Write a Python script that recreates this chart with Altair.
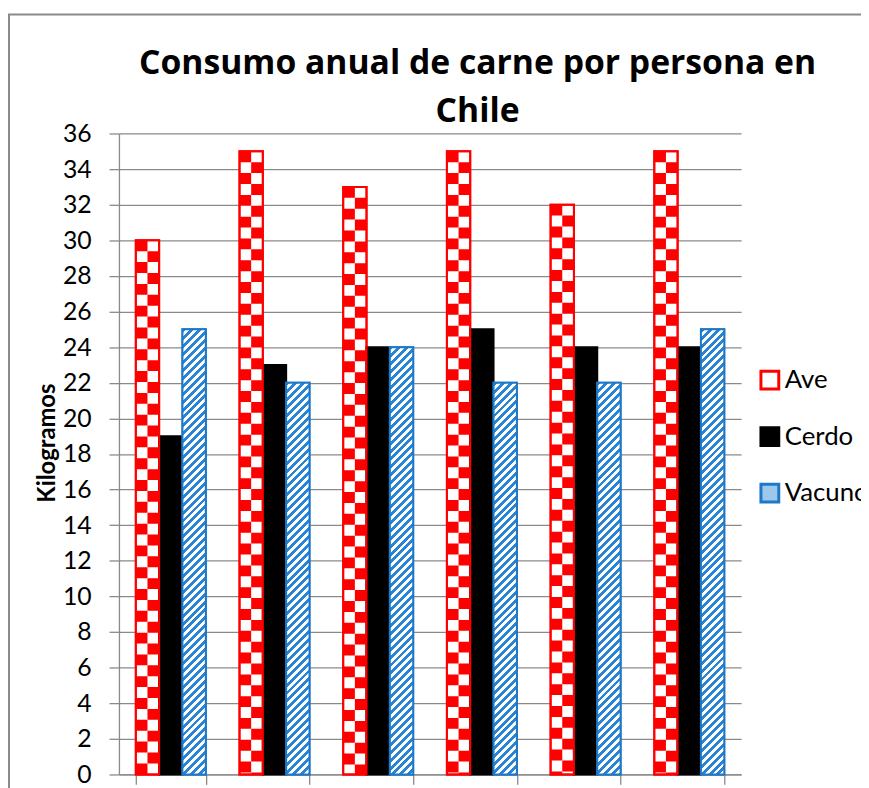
import altair as alt
import pandas as pd

# ---- data ----
groups = ["G1", "G2", "G3", "G4", "G5", "G6"]
series = ["Ave", "Cerdo", "Vacuno"]
ave = [30, 35, 33, 35, 32, 35]
cerdo = [19, 23, 24, 25, 24, 24]
vacuno = [25, 22, 24, 22, 22, 25]
y_ticks = list(range(0, 37, 2))
title_lines = ["Consumo anual de carne por persona en", "Chile"]
y_title = "Kilogramos"

# ---- layout / style constants ----
W, H, YMAX = 628, 647, 36
P_IN, P_OUT = 0.325, 0.1625
STEP = W / (len(groups) - P_IN + 2 * P_OUT)
BAR_W = STEP * (1 - P_IN) / 3
HALF = BAR_W / 2
GRAY = "#8a8a8a"
RED = "#ff0000"
BLUE = "#1e78c8"
HATCH = "#2a84d6"
FONT = "Lato"
TITLE_FONT = "Open Sans"

rows = []
for name, vals in zip(series, [ave, cerdo, vacuno]):
    for g, v in zip(groups, vals):
        rows.append({"group": g, "series": name, "value": v})
df = pd.DataFrame(rows)


def hatch_gradient(w, h, period=8.0, frac=0.5, c1=HATCH, c2="#ffffff"):
    L = w + h
    D = w * w + h * h
    stops = []
    i = 0
    while True:
        s0, s1, s2 = i * period, i * period + frac * period, (i + 1) * period
        t0, t1, t2 = (min(s / L, 1.0) for s in (s0, s1, s2))
        if t0 >= 1.0:
            break
        stops += [alt.GradientStop(offset=t0, color=c1), alt.GradientStop(offset=t1, color=c1),
                  alt.GradientStop(offset=t1, color=c2), alt.GradientStop(offset=t2, color=c2)]
        i += 1
    return alt.LinearGradient(gradient="linear", x1=0, y1=0, x2=w * L / D, y2=h * L / D, stops=stops)


x_axis = alt.Axis(title=None, labels=False, ticks=True, tickBand="extent", tickSize=10,
                  tickColor=GRAY, tickWidth=1.3, domainColor=GRAY, domainWidth=1.3, grid=False)
y_axis = alt.Axis(values=y_ticks, title=y_title, titleFont=FONT, titleFontSize=24,
                  titleFontWeight="bold", titleColor="black", titleX=-60, titleY=312,
                  labelFont=FONT, labelFontSize=25, labelColor="black", labelPadding=18,
                  tickSize=10, tickColor=GRAY, tickWidth=1.3, domainColor=GRAY, domainWidth=1.3,
                  grid=True, gridColor=GRAY, gridWidth=1.3)


def xe():
    return alt.X("group:N", scale=alt.Scale(domain=groups, paddingInner=P_IN, paddingOuter=P_OUT), axis=x_axis)


def ye():
    return alt.Y("value:Q", scale=alt.Scale(domain=[0, YMAX], nice=False, zero=True), axis=y_axis)


def xo_series():
    return alt.XOffset("series:N", scale=alt.Scale(domain=series, paddingInner=0, paddingOuter=0))


legend = alt.Legend(title=None, orient="none", legendX=644, legendY=236, symbolType="square",
                    symbolSize=324, symbolStrokeWidth=3, symbolOpacity=1, labelFont=FONT,
                    labelFontSize=26, labelColor="black", rowPadding=27, labelOffset=2, padding=0)

border = alt.Chart(alt.Data(values=[{"k": 1}])).mark_rect(
    fillOpacity=0, stroke=GRAY, strokeWidth=2
).encode(x=alt.value(-111), x2=alt.value(845), y=alt.value(-120), y2=alt.value(H + 60))

base = alt.Chart(df).mark_bar(strokeWidth=2).encode(
    x=xe(), xOffset=xo_series(), y=ye(),
    fill=alt.Fill("series:N", scale=alt.Scale(domain=series, range=["#ffffff", "#000000", "#9cc8ee"]), legend=legend),
    stroke=alt.Stroke("series:N", scale=alt.Scale(domain=series, range=[RED, "#000000", BLUE]), legend=legend),
)

cols = ["AL", "AR", "CL", "CR", "VL", "VR"]
rule_layers = []
for col, dash_off in [("AL", 0), ("AR", 11)]:
    rule_layers.append(
        alt.Chart(df).transform_filter("datum.series == 'Ave'").transform_calculate(col=f"'{col}'")
        .mark_rule(color=RED, strokeWidth=HALF, strokeDash=[11, 11], strokeDashOffset=dash_off, strokeCap="butt")
        .encode(x=xe(), xOffset=alt.XOffset("col:N", scale=alt.Scale(domain=cols, paddingInner=0, paddingOuter=0)),
                y=ye(), y2=alt.datum(0))
    )

ave_outline = alt.Chart(df).transform_filter("datum.series == 'Ave'").mark_bar(
    fillOpacity=0, stroke=RED, strokeWidth=2
).encode(x=xe(), xOffset=xo_series(), y=ye())

vac_layers = []
for g, v in zip(groups, vacuno):
    h = v * H / YMAX
    vac_layers.append(
        alt.Chart(df).transform_filter(f"datum.series == 'Vacuno' && datum.group == '{g}'")
        .mark_bar(fill=hatch_gradient(BAR_W, h), stroke=BLUE, strokeWidth=2)
        .encode(x=xe(), xOffset=xo_series(), y=ye())
    )

chart = alt.layer(border, base, *rule_layers, ave_outline, *vac_layers).resolve_scale(
    xOffset="independent"
).properties(
    width=W, height=H,
    autosize=alt.AutoSizeParams(type="none"),
    padding={"left": 112, "top": 123, "right": 121, "bottom": 10},
    title=alt.TitleParams(text=title_lines, font=TITLE_FONT, fontSize=34, fontWeight="bold", color="black",
                          anchor="middle", frame="group", dx=48, dy=120, lineHeight=48, offset=4),
).configure_view(stroke=None)

chart.save("out.html", embed_options={"renderer": "svg", "actions": False})
